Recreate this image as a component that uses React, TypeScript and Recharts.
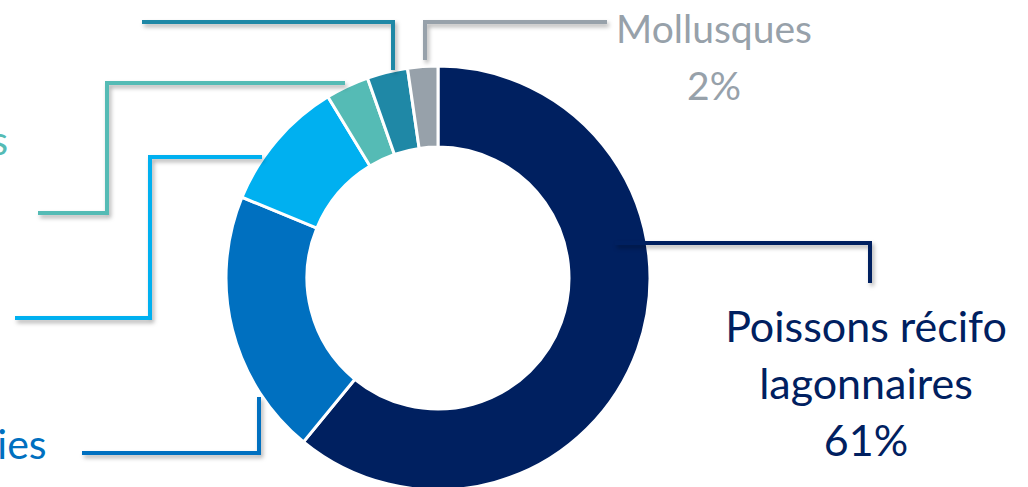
import React from 'react';
import { Pie, PieChart, Cell } from 'recharts';

const categories = [
  'Poissons récifo\nlagonnaires',
  'Holothuries',
  'Poissons pélagiques',
  'Crustacés',
  'Trocas',
  'Mollusques',
];
const shares = [61, 20.3, 10.1, 3.3, 3.1, 2.3];
const colors = ['#002060', '#0070C0', '#00B0F0', '#55BBB5', '#1F88A6', '#97A1AA'];

const data = categories.map((name, i) => ({ name, value: shares[i] }));

// leader line elbows and label anchors, relative to the pie centre
const leaders = [
  { pts: [[177, -35], [432, -35], [432, 5]], tx: 428, ty: 64, size: 43 },
  { pts: [[-179, 119], [-179, 175], [-356, 175]], tx: -497, ty: 181, size: 41 },
  { pts: [[-176, -121], [-288, -121], [-288, 40], [-423, 40]], tx: -900, ty: 52, size: 40 },
  { pts: [[-93, -195], [-331, -195], [-331, -65], [-400, -65]], tx: -516, ty: -123, size: 40 },
  { pts: [[-45, -208], [-45, -256], [-296, -256]], tx: -300, ty: -460, size: 40 },
  { pts: [[-13, -218], [-13, -256], [169, -256]], tx: 276, ty: -235, size: 39 },
];

const renderLabel = (props: any) => {
  const { cx, cy, index, percent } = props;
  const l = leaders[index];
  const color = colors[index];
  const lines = [...categories[index].split('\n'), `${Math.round(percent * 100)}%`];
  return (
    <g key={`lbl-${index}`}>
      <polyline
        points={l.pts.map(([x, y]) => `${cx + x},${cy + y}`).join(' ')}
        fill="none"
        stroke={color}
        strokeWidth={4}
        style={{ filter: 'drop-shadow(2px 3px 2px rgba(0,0,0,0.3))' }}
      />
      <text
        x={cx + l.tx}
        y={cy + l.ty}
        fill={color}
        textAnchor="middle"
        fontFamily="Lato, sans-serif"
        fontSize={l.size}
      >
        {lines.map((t, i) => (
          <tspan key={i} x={cx + l.tx} dy={i === 0 ? 0 : 57}>
            {t}
          </tspan>
        ))}
      </text>
    </g>
  );
};

export default function App() {
  return (
    <div
      style={{
        position: 'fixed',
        left: 0,
        top: 0,
        width: 1028,
        height: 487,
        overflow: 'hidden',
        background: '#fff',
      }}
    >
      <PieChart width={1028} height={487} margin={{ top: 0, right: 0, bottom: 0, left: 0 }}>
        <Pie
          data={data}
          dataKey="value"
          nameKey="name"
          cx={438}
          cy={278}
          innerRadius={131}
          outerRadius={212}
          startAngle={90}
          endAngle={-270}
          stroke="#fff"
          strokeWidth={3}
          label={renderLabel}
          labelLine={false}
          isAnimationActive={false}
        >
          {data.map((d, i) => (
            <Cell key={d.name} fill={colors[i]} />
          ))}
        </Pie>
      </PieChart>
    </div>
  );
}
